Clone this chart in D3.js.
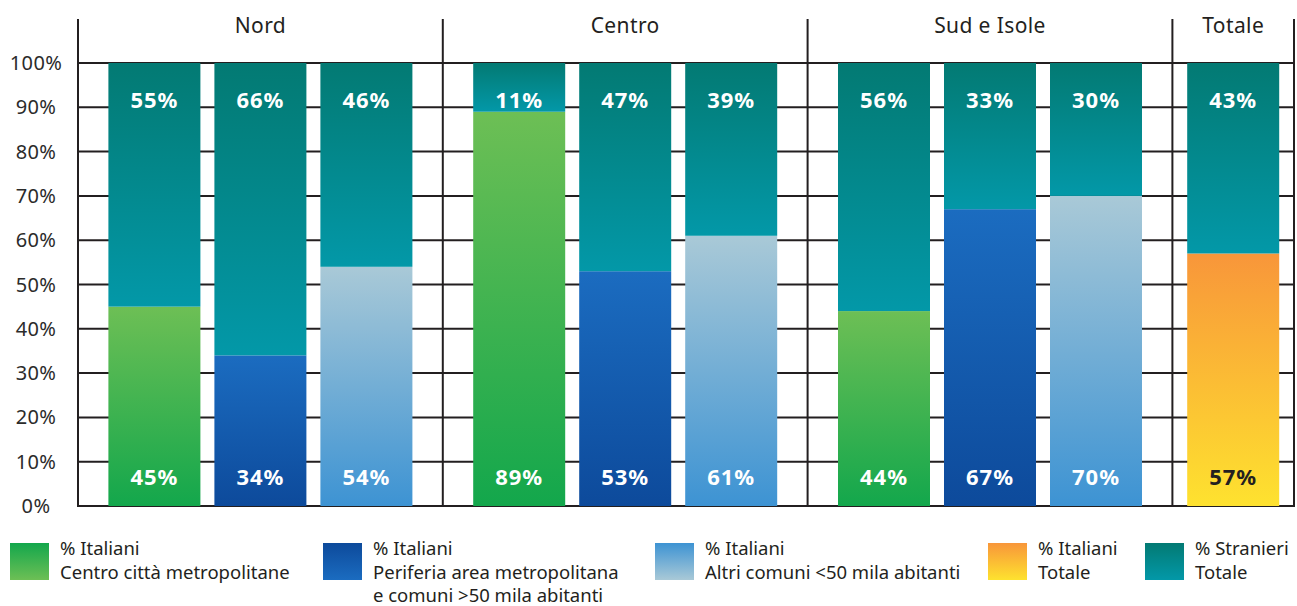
<!DOCTYPE html>
<html>
<head>
<meta charset="utf-8">
<script src="https://cdn.jsdelivr.net/npm/d3@7"></script>
<style>
html,body{margin:0;padding:0;background:#fff;}
svg{display:block;font-family:"Noto Sans",sans-serif;}
</style>
</head>
<body>
<svg id="chart" width="1297" height="606"></svg>
<script>
// ---- data ----
const groups = ["Nord", "Centro", "Sud e Isole", "Totale"];
const groupSizes = [3, 3, 3, 1];
const barGroup = [0,0,0,1,1,1,2,2,2,3];
const barType = ["centro","periferia","altri","centro","periferia","altri","centro","periferia","altri","totale"];
const italiani = [45, 34, 54, 89, 53, 61, 44, 67, 70, 57];
const stranieri = [55, 66, 46, 11, 47, 39, 56, 33, 30, 43];
const yTicks = [0,10,20,30,40,50,60,70,80,90,100];
const legendItems = [
  {key:"centro", lines:["% Italiani","Centro città metropolitane"]},
  {key:"periferia", lines:["% Italiani","Periferia area metropolitana","e comuni >50 mila abitanti"]},
  {key:"altri", lines:["% Italiani","Altri comuni <50 mila abitanti"]},
  {key:"totale", lines:["% Italiani","Totale"]},
  {key:"stranieri", lines:["% Stranieri","Totale"]}
];
const legendX = [10, 323, 655, 988, 1145];

// ---- styles ----
const grad = {
  centro:    ["#6dbf55", "#13a74c"],
  periferia: ["#1b6cc0", "#0d4a9b"],
  altri:     ["#a9c9d7", "#3d93d3"],
  totale:    ["#f8963a", "#fee22f"],
  stranieri: ["#037a73", "#0398a8"]
};
const legendReverse = {centro:true, periferia:true, altri:true, totale:false, stranieri:false};
const ink = "#231f20";

const svg = d3.select("#chart");
const defs = svg.append("defs");
Object.entries(grad).forEach(([k, c]) => {
  const g = defs.append("linearGradient").attr("id", "g-" + k).attr("x1",0).attr("y1",0).attr("x2",0).attr("y2",1);
  g.append("stop").attr("offset","0%").attr("stop-color", c[0]);
  g.append("stop").attr("offset","100%").attr("stop-color", c[1]);
  const gl = defs.append("linearGradient").attr("id", "gl-" + k).attr("x1",0).attr("y1",0).attr("x2",0).attr("y2",1);
  const cc = legendReverse[k] ? [c[1], c[0]] : c;
  gl.append("stop").attr("offset","0%").attr("stop-color", cc[0]);
  gl.append("stop").attr("offset","100%").attr("stop-color", cc[1]);
});

const plotL = 78, plotR = 1294, plotT = 63, plotB = 506;
const y = d3.scaleLinear().domain([0, 100]).range([plotB, plotT]);
const slot = d3.scaleLinear().domain([0, 10]).range([plotL, plotR]);
const cum = [0]; groupSizes.forEach((n,i) => cum.push(cum[i] + n));

const step = 106, bw = 92;
const pin = (step - bw) / step;
const inner = groups.map((g, gi) => {
  const c = (slot(cum[gi]) + slot(cum[gi+1])) / 2;
  const n = groupSizes[gi];
  return d3.scaleBand().domain(d3.range(n)).range([c - n*step/2, c + n*step/2]).paddingInner(pin).paddingOuter(pin/2);
});
const barIndexInGroup = barGroup.map((g, i) => i - barGroup.indexOf(g));
const bx = i => inner[barGroup[i]](barIndexInGroup[i]);
const bwid = i => inner[barGroup[i]].bandwidth();

// grid lines
svg.append("g").selectAll("line").data(yTicks).join("line")
  .attr("x1", plotL).attr("x2", plotR).attr("y1", d => y(d)).attr("y2", d => y(d))
  .attr("stroke", ink).attr("stroke-width", 2);

// vertical separators
svg.append("g").selectAll("line").data(cum).join("line")
  .attr("x1", d => slot(d)).attr("x2", d => slot(d)).attr("y1", 19).attr("y2", plotB + 1)
  .attr("stroke", ink).attr("stroke-width", 2);

// y labels
svg.append("g").selectAll("text").data(yTicks).join("text")
  .attr("x", 36).attr("y", d => y(d)).attr("dy", "0.35em")
  .attr("text-anchor", "middle").attr("font-size", 20).attr("letter-spacing", 0.4).attr("fill", "#2b2b2b")
  .text(d => d + "%");

// group headers
svg.append("g").selectAll("text").data(groups).join("text")
  .attr("x", (d, i) => (slot(cum[i]) + slot(cum[i+1])) / 2).attr("y", 26).attr("dy", "0.35em")
  .attr("text-anchor", "middle").attr("font-size", 21).attr("letter-spacing", 0.4).attr("fill", ink)
  .text(d => d);

// bars
const idx = d3.range(italiani.length);
const bars = svg.append("g");
bars.selectAll("rect.it").data(idx).join("rect").attr("class","it")
  .attr("x", i => bx(i)).attr("width", i => bwid(i))
  .attr("y", i => y(italiani[i])).attr("height", i => y(0) - y(italiani[i]))
  .attr("fill", i => `url(#g-${barType[i]})`);
bars.selectAll("rect.st").data(idx).join("rect").attr("class","st")
  .attr("x", i => bx(i)).attr("width", i => bwid(i))
  .attr("y", i => y(italiani[i] + stranieri[i])).attr("height", i => y(italiani[i]) - y(italiani[i] + stranieri[i]))
  .attr("fill", "url(#g-stranieri)");

// labels
const lbl = svg.append("g").attr("font-size", 22).attr("font-weight", "bold").attr("letter-spacing", 1).attr("text-anchor", "middle");
lbl.selectAll("text.it").data(idx).join("text").attr("class","it")
  .attr("x", i => bx(i) + bwid(i)/2).attr("y", y(6.5)).attr("dy","0.35em")
  .attr("fill", i => barType[i] === "totale" ? ink : "#fff")
  .text(i => italiani[i] + "%");
lbl.selectAll("text.st").data(idx).join("text").attr("class","st")
  .attr("x", i => bx(i) + bwid(i)/2).attr("y", y(91.5)).attr("dy","0.35em")
  .attr("fill", "#fff")
  .text(i => stranieri[i] + "%");

// legend
const lg = svg.append("g").selectAll("g").data(legendItems).join("g")
  .attr("transform", (d, i) => `translate(${legendX[i]},543)`);
lg.append("rect").attr("width", 39).attr("height", 37).attr("fill", d => `url(#gl-${d.key})`);
lg.each(function(d) {
  const t = d3.select(this).append("text").attr("font-size", 18.5).attr("fill", ink);
  d.lines.forEach((l, j) => t.append("tspan").attr("x", 50).attr("y", 12 + j * 23.5).text(l));
});
</script>
</body>
</html>
